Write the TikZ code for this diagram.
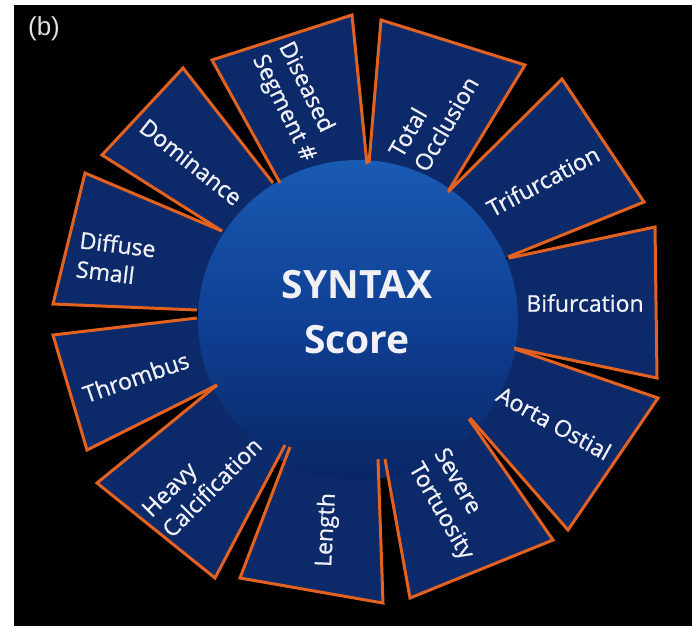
\documentclass[tikz,border=0pt]{standalone}
\usepackage{fontspec}
\setmainfont{Open Sans}
\newfontfamily\segfont[FakeBold=0.9]{Open Sans}
\newfontfamily\tagfont{Liberation Sans}
\definecolor{segblue}{RGB}{12,42,105}
\definecolor{segorange}{RGB}{228,98,32}
\definecolor{hubtop}{RGB}{26,90,178}
\definecolor{hubmid}{RGB}{15,64,148}
\definecolor{hubbot}{RGB}{9,38,100}
\definecolor{labelwhite}{RGB}{240,240,246}
\definecolor{taggray}{RGB}{225,225,225}
\begin{document}
\begin{tikzpicture}[x=1pt,y=-1pt,
  segfill/.style={fill=segblue},
  segline/.style={draw=segorange,line width=3pt,line join=miter},
  seglabel/.style={text=labelwhite,font=\segfont\fontsize{23}{29}\selectfont,inner sep=0pt},
  multilabel/.style={seglabel,align=left,anchor=west}]
\useasboundingbox (0,0) rectangle (692,627);
\fill[white] (0,0) rectangle (692,627);
\fill[black] (14,5) rectangle (692,626);
\node[text=taggray,font=\tagfont\fontsize{26}{30}\selectfont,inner sep=0pt] (tag) at (44,29) {(b)};
\coordinate (c) at (358,320);
% fills
\fill[segfill] (273,183) -- (183,68) -- (102,155) -- (222,231) -- (c) -- cycle;
\fill[segfill] (280,183) -- (212,60) -- (352,15) -- (367,164) -- (c) -- cycle;
\fill[segfill] (369,163) -- (381,20) -- (525,65) -- (449,190) -- (c) -- cycle;
\fill[segfill] (448,192) -- (562,79) -- (644,202) -- (508,257) -- (c) -- cycle;
\fill[segfill] (509,258) -- (655,227) -- (657,378) -- (514,348) -- (c) -- cycle;
\fill[segfill] (515,349) -- (658,398) -- (568,530) -- (470,418) -- (c) -- cycle;
\fill[segfill] (469,419) -- (553,540) -- (410,598) -- (385,459) -- (c) -- cycle;
\fill[segfill] (378,459) -- (383,603) -- (240,578) -- (290,447) -- (c) -- cycle;
\fill[segfill] (285,445) -- (215,578) -- (97,483) -- (217,385) -- (c) -- cycle;
\fill[segfill] (217,385) -- (87,450) -- (53,335) -- (197,318) -- (c) -- cycle;
\fill[segfill] (197,310) -- (53,304) -- (85,173) -- (222,231) -- (c) -- cycle;
% hub
\node[circle,minimum size=320pt,inner sep=0pt,draw=none,top color=hubtop,bottom color=hubbot,middle color=hubmid] (hub) at (c) {};
% outlines
\draw[segline] (273,183) -- (183,68) -- (102,155) -- (222,231);
\draw[segline] (280,183) -- (212,60) -- (352,15) -- (367,164);
\draw[segline] (369,163) -- (381,20) -- (525,65) -- (449,190);
\draw[segline] (448,192) -- (562,79) -- (644,202) -- (508,257);
\draw[segline] (509,258) -- (655,227) -- (657,378) -- (514,348);
\draw[segline] (515,349) -- (658,398) -- (568,530) -- (470,418);
\draw[segline] (469,419) -- (553,540) -- (410,598) -- (385,459);
\draw[segline] (378,459) -- (383,603) -- (240,578) -- (290,447);
\draw[segline] (285,445) -- (215,578) -- (97,483) -- (217,385);
\draw[segline] (217,385) -- (87,450) -- (53,335) -- (197,318);
\draw[segline] (197,310) -- (53,304) -- (85,173) -- (222,231);
% labels
\node[seglabel,rotate=-38.5] (ldom) at (191,162) {Dominance};
\node[multilabel,rotate=-64] (ldis) at (271,50) {Diseased\\Segment \#};
\node[multilabel,rotate=60] (ltot) at (407,162) {Total\\Occlusion};
\node[seglabel,rotate=28] (ltri) at (543,181) {Trifurcation};
\node[seglabel] (lbif) at (585,303) {Bifurcation};
\node[seglabel,rotate=-29] (laor) at (554,423) {Aorta Ostial};
\node[multilabel,rotate=-60] (lsev) at (426,458) {Severe\\Tortuosity};
\node[seglabel,rotate=87] (llen) at (327,530) {Length};
\node[multilabel,rotate=45] (lhea) at (156,523) {Heavy\\Calcification};
\node[seglabel,rotate=19] (lthr) at (136,377) {Thrombus};
\node[multilabel,rotate=-7] (ldif) at (78,254) {Diffuse\\Small};
\node[text=labelwhite,font=\bfseries\fontsize{39}{55}\selectfont,align=center,inner sep=0pt] (title) at (357,312) {SYNTAX\\Score};
\end{tikzpicture}
\end{document}
